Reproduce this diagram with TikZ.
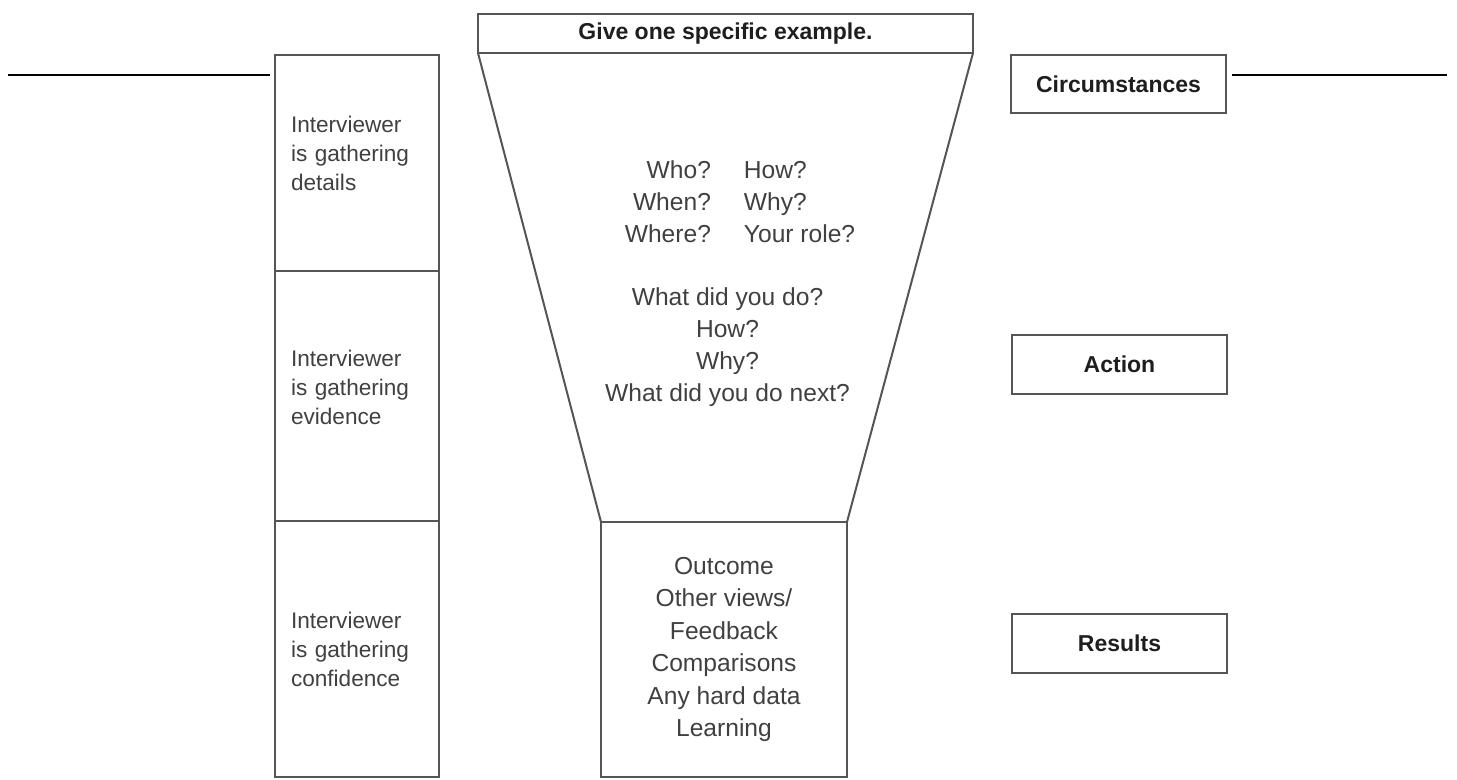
\documentclass[tikz,border=0pt]{standalone}
\usepackage{fontspec}
\setmainfont{Liberation Sans}
\usetikzlibrary{positioning}
\definecolor{boxline}{HTML}{555555}
\definecolor{bodytext}{HTML}{404040}
\definecolor{headtext}{HTML}{1E1E1E}
\tikzstyle{stage} = [
  rectangle,
  minimum width=82pt,
  text width=66pt,
  inner xsep=8pt,
  align=left,
  outer sep=0pt,
  draw=boxline,
  line width=1pt,
  text=bodytext,
  font=\fontsize{11.3}{14.5}\selectfont
]
\tikzstyle{heading} = [
  rectangle,
  minimum width=107.5pt,
  minimum height=29.5pt,
  inner ysep=2pt,
  text centered,
  outer sep=0pt,
  draw=boxline,
  line width=1pt,
  text=headtext,
  font=\bfseries\fontsize{11.5}{14}\selectfont
]
\tikzstyle{answers} = [
  rectangle,
  minimum width=123pt,
  minimum height=127.5pt,
  align=center,
  outer sep=0pt,
  draw=boxline,
  line width=1pt,
  text=bodytext,
  font=\fontsize{12.3}{16.2}\selectfont
]
\tikzstyle{questions} = [align=center, text=bodytext, font=\fontsize{12.3}{16}\selectfont]
\tikzstyle{funnel} = [draw=boxline, line width=1pt]
\tikzstyle{sideline} = [draw=black, line width=0.8pt]

\begin{document}
\begin{tikzpicture}[x=0.5pt, y=-0.5pt]
    \useasboundingbox (0,0) rectangle (1457,780);

    \node (details) [stage, minimum height=108pt, text depth=39pt] at (357,163) {Interviewer\\is gathering\\details};
    \node (evidence) [stage, minimum height=125pt, text depth=38pt, below=0pt of details] {Interviewer\\is gathering\\evidence};
    \node (confidence) [stage, minimum height=128pt, below=0pt of evidence] {Interviewer\\is gathering\\confidence};

    \node (example) [heading, minimum width=247.5pt, minimum height=19.5pt] at (725.5,33.5) {Give one specific example.};
    \node (outcomes) [answers] at (724,649.5) {Outcome\\Other views/\\Feedback\\Comparisons\\Any hard data\\Learning};
    \node (who-how) [questions] at (740,204) {\begin{tabular}{r@{\hspace{16.5pt}}l}Who? & How?\\When? & Why?\\Where? & Your role?\end{tabular}};
    \node (what-did) [questions] at (727.5,347) {What did you do?\\How?\\Why?\\What did you do next?};

    \node (circumstances) [heading, minimum height=29pt] at (1118.5,84) {Circumstances};
    \node (action) [heading] at (1119.5,364.5) {Action};
    \node (results) [heading] at (1119.5,643.5) {Results};

    \coordinate (rule-left-start) at (8,75);
    \coordinate (rule-left-end) at (270,75);
    \coordinate (rule-right-start) at (1232,75);
    \coordinate (rule-right-end) at (1447,75);

    \draw [funnel] (example.south west) -- (outcomes.north west);
    \draw [funnel] (example.south east) -- (outcomes.north east);
    \draw [sideline] (rule-left-start) -- (rule-left-end);
    \draw [sideline] (rule-right-start) -- (rule-right-end);
  \end{tikzpicture}
\end{document}
